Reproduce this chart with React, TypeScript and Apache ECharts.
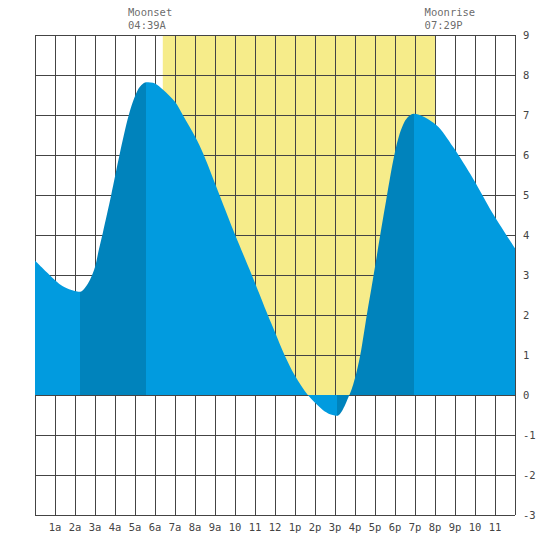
import React, { useEffect, useRef } from "react";
import * as echarts from "echarts";

// Tide heights (ft), at given hours after midnight
const tideHours = [0, 0.73, 1.39, 2.27, 2.5, 2.75, 3.0, 3.2, 3.39, 3.81, 4.225, 4.69, 5.14, 5.56, 6.0, 6.39, 7.0, 7.39, 8.0, 8.44, 9.225, 10.01, 10.84, 11.64, 12.0, 12.475, 13.0, 13.64, 14.39, 14.75, 15.1, 15.72, 16.06, 16.31, 16.59, 16.89, 17.56, 18.06, 18.475, 18.93, 20.06, 20.89, 21.89, 22.89, 24];
const tideHeights = [3.36, 3.0, 2.72, 2.58, 2.68, 2.88, 3.2, 3.65, 4.05, 5.0, 6.0, 7.0, 7.625, 7.82, 7.79, 7.64, 7.33, 7.0, 6.46, 6.0, 5.0, 4.0, 3.0, 2.0, 1.57, 1.0, 0.48, 0.0, -0.375, -0.48, -0.52, 0.0, 0.54, 1.125, 2.0, 2.875, 4.875, 6.21, 6.83, 7.03, 6.75, 6.21, 5.42, 4.54, 3.67];

// Rising (flood) tide intervals, drawn darker: [low, high]
const floodStarts = [2.27, 15.1];
const floodEnds = [5.56, 18.93];

// Daylight
const sunrise = 6.39;
const sunset = 20.0;

// Moon events
const moonLabels = ["Moonset", "Moonrise"];
const moonTimes = ["04:39A", "07:29P"];
const moonHours = [4.65, 19.48];

// Tick labels
const hourLabels = ["", "1a", "2a", "3a", "4a", "5a", "6a", "7a", "8a", "9a", "10", "11", "12", "1p", "2p", "3p", "4p", "5p", "6p", "7p", "8p", "9p", "10", "11", ""];
const yMin = -3;
const yMax = 9;

const LIGHT = "#019BDF";
const DARK = "#0083BC";
const SUN = "#F6EC8A";
const GRIDC = "#444444";
const TEXTC = "#444444";
const FONT = "DejaVu Sans Mono";

export default function App() {
  const ref = useRef<HTMLDivElement>(null);
  useEffect(() => {
    if (!ref.current) return;
    const chart = echarts.init(ref.current, undefined, { renderer: "svg" });
    const pieces: any[] = [];
    let prev = -Infinity;
    floodStarts.forEach((s, i) => {
      pieces.push({ gte: prev, lt: s, color: LIGHT });
      pieces.push({ gte: s, lt: floodEnds[i], color: DARK });
      prev = floodEnds[i];
    });
    pieces.push({ gte: prev, color: LIGHT });

    chart.setOption({
      animation: false,
      grid: { left: 35, right: 35, top: 35, bottom: 35, containLabel: false },
      xAxis: {
        type: "value",
        min: 0,
        max: 24,
        interval: 1,
        z: 1.5,
        axisLine: { show: false },
        axisTick: { show: false },
        splitLine: { show: true, lineStyle: { color: GRIDC, width: 1 } },
        axisLabel: {
          margin: 6,
          color: TEXTC,
          fontFamily: FONT,
          fontSize: 10.5,
          formatter: (v: number) => hourLabels[Math.round(v)] ?? "",
          showMinLabel: true,
          showMaxLabel: true,
        },
      },
      yAxis: {
        type: "value",
        position: "right",
        min: yMin,
        max: yMax,
        interval: 1,
        z: 1.5,
        axisLine: { show: false },
        axisTick: { show: false },
        splitLine: { show: true, lineStyle: { color: GRIDC, width: 1 } },
        axisLabel: {
          margin: 8,
          color: TEXTC,
          fontFamily: FONT,
          fontSize: 10.5,
        },
      },
      visualMap: {
        show: false,
        type: "piecewise",
        dimension: 0,
        seriesIndex: 1,
        pieces,
      },
      series: [
        {
          type: "line",
          data: [],
          z: 0,
          silent: true,
          markArea: {
            silent: true,
            z: 0,
            itemStyle: { color: SUN, opacity: 1 },
            data: [[{ xAxis: sunrise, yAxis: 0 }, { xAxis: sunset, yAxis: yMax }]],
          },
        },
        {
          type: "line",
          z: 2,
          smooth: 0.3,
          symbol: "none",
          silent: true,
          lineStyle: { width: 0 },
          areaStyle: { opacity: 1, origin: 0 },
          data: tideHours.map((h, i) => [h, tideHeights[i]]),
        },
        {
          type: "scatter",
          z: 3,
          clip: false,
          silent: true,
          symbolSize: 0,
          itemStyle: { color: "rgba(0,0,0,0)" },
          data: moonHours.map((h) => [h, yMax]),
          label: {
            show: true,
            position: "top",
            align: "left",
            distance: 3,
            color: TEXTC,
            fontFamily: FONT,
            fontSize: 10.5,
            lineHeight: 13.5,
            formatter: (p: any) => `${moonLabels[p.dataIndex]}\n${moonTimes[p.dataIndex]}`,
          },
        },
      ],
    });
    return () => chart.dispose();
  }, []);
  return (
    <div
      ref={ref}
      style={{ position: "fixed", left: 0, top: 0, width: 550, height: 550, background: "#fff" }}
    />
  );
}
